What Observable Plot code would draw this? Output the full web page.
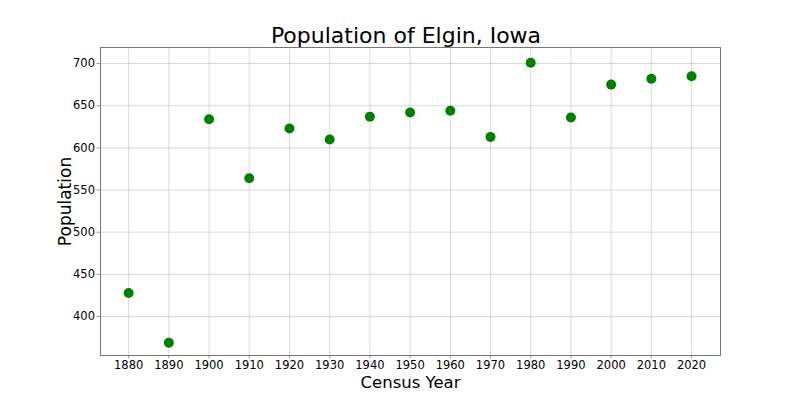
<!DOCTYPE html>
<html>
<head>
<meta charset="utf-8">
<script src="https://cdn.jsdelivr.net/npm/d3@7"></script>
<script src="https://cdn.jsdelivr.net/npm/@observablehq/plot@0.6"></script>
<style>
  body { margin: 0; background: #fff; }
  #wrap { position: relative; width: 800px; height: 400px; font-family: "DejaVu Sans", sans-serif; }
  #title { position: absolute; left: 6px; width: 800px; top: 22px; text-align: center; font-size: 22px; color: #000; line-height: 28px; }
</style>
</head>
<body>
<div id="wrap">
  <div id="chart"></div>
  <div id="title">Population of Elgin, Iowa</div>
</div>
<script>
const years = [1880, 1890, 1900, 1910, 1920, 1930, 1940, 1950, 1960, 1970, 1980, 1990, 2000, 2010, 2020];
const population = [428, 369, 634, 564, 623, 610, 637, 642, 644, 613, 701, 636, 675, 682, 685];
const xTicks = [1880, 1890, 1900, 1910, 1920, 1930, 1940, 1950, 1960, 1970, 1980, 1990, 2000, 2010, 2020];
const yTicks = [400, 450, 500, 550, 600, 650, 700];

const data = years.map((y, i) => ({year: y, pop: population[i]}));

const chart = Plot.plot({
  width: 800,
  height: 400,
  marginLeft: 100,
  marginRight: 80,
  marginTop: 47,
  marginBottom: 45,
  style: { fontFamily: "DejaVu Sans, sans-serif", fontSize: "12px", color: "#000", background: "#fff" },
  x: { domain: [1873, 2027.2] },
  y: { domain: [353.8, 719] },
  marks: [
    Plot.gridX(xTicks, { stroke: "#b0b0b0", strokeOpacity: 0.6, strokeWidth: 0.8 }),
    Plot.gridY(yTicks, { stroke: "#b0b0b0", strokeOpacity: 0.6, strokeWidth: 0.8 }),
    Plot.axisX(xTicks, { tickSize: 3.5, tickPadding: 1.5, stroke: "#999", label: null, fontSize: 11.5, fill: "#000", tickFormat: d => String(d) }),
    Plot.axisY(yTicks, { tickSize: 3.5, tickPadding: 2, stroke: "#999", label: null, fontSize: 11.5, fill: "#000", tickFormat: d => String(d) }),
    Plot.frame({ stroke: "#777", strokeWidth: 1 }),
    Plot.dot(data, { x: "year", y: "pop", r: 5, fill: "green", stroke: "none" }),
    Plot.text(["Census Year"], { frameAnchor: "bottom", lineAnchor: "middle", dy: 27, fontSize: 16.5, fill: "#000" }),
    Plot.text(["Population"], { frameAnchor: "left", textAnchor: "middle", lineAnchor: "middle", dx: -35, rotate: -90, fontSize: 17, fill: "#000" })
  ]
});
document.getElementById("chart").appendChild(chart);
</script>
</body>
</html>
